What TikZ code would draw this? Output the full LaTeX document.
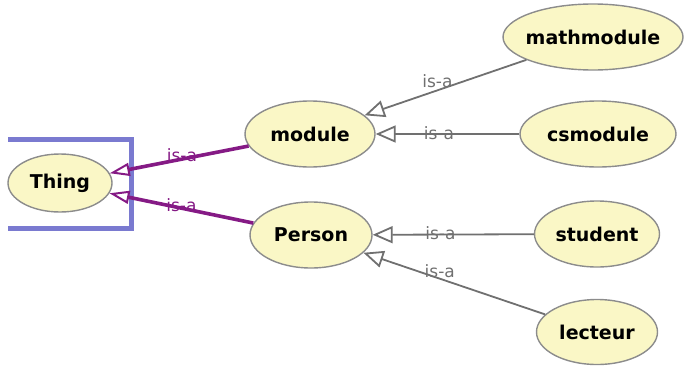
\documentclass[tikz,border=0pt]{standalone}
\usepackage{fontspec}
\setmainfont{DejaVu Sans}
\usetikzlibrary{arrows.meta,shapes.geometric}
\definecolor{classfill}{HTML}{FAF7C6}
\definecolor{classline}{HTML}{8C8C8C}
\definecolor{isagray}{HTML}{707070}
\definecolor{isapurple}{HTML}{851A85}
\definecolor{selblue}{HTML}{7A7AD0}
\tikzset{
  % Define style for class ellipses
  class/.style={
    ellipse,
    draw=classline, line width=1.4pt,
    fill=classfill,
    inner xsep=-4pt, inner ysep=0pt,
    minimum height=66pt,
    font=\bfseries\fontsize{19}{22}\selectfont},
  % Define is-a arrow style
  isa/.style={
    draw=isagray, line width=1.8pt,
    -{Triangle[open, length=20pt, width=17pt, fill=white]}},
  % Define top is-a arrow style
  topisa/.style={
    draw=isapurple, line width=3.6pt,
    -{Triangle[open, length=20pt, width=13pt, line width=2pt]}},
  % label on arrows
  lbl/.style={text=isagray, inner sep=0pt, font=\fontsize{17}{20}\selectfont},
  toplbl/.style={lbl, text=isapurple},
}

\begin{document}
\begin{tikzpicture}[x=1pt, y=-1pt]
  \useasboundingbox (0,0) rectangle (684,370);
  % selection frame
  \draw[selblue, line width=5pt] (8,139) -- (131,139) -- (131,228) -- (8,228);
  % nodes
  \node[class, minimum width=104pt, minimum height=58pt] (thing) at (60,183) {Thing};
  \node[class, minimum width=130pt] (module) at (310,134) {module};
  \node[class, minimum width=122pt] (person) at (311,235) {Person};
  \node[class, minimum width=180pt] (mathmodule) at (593,37) {mathmodule};
  \node[class, minimum width=156pt] (csmodule) at (598,134) {csmodule};
  \node[class, minimum width=125pt] (student) at (597,234) {student};
  \node[class, minimum width=121pt, minimum height=65pt] (lecteur) at (597,332) {lecteur};
  % is-a links
  \draw[isa] (mathmodule) -- node[lbl, pos=0.55, yshift=9pt] {is-a} (module);
  \draw[isa] (csmodule) -- node[lbl, pos=0.56, yshift=1pt] {is-a} (module);
  \draw[isa] (student) -- node[lbl, pos=0.58, yshift=1pt] {is-a} (person);
  \draw[isa] (lecteur) -- node[lbl, pos=0.58, yshift=8pt] {is-a} (person);
  \draw[topisa] (module) -- node[toplbl, pos=0.48, yshift=4pt] {is-a} (thing);
  \draw[topisa] (person) -- node[toplbl, pos=0.5, yshift=3pt] {is-a} (thing);
\end{tikzpicture}
\end{document}
